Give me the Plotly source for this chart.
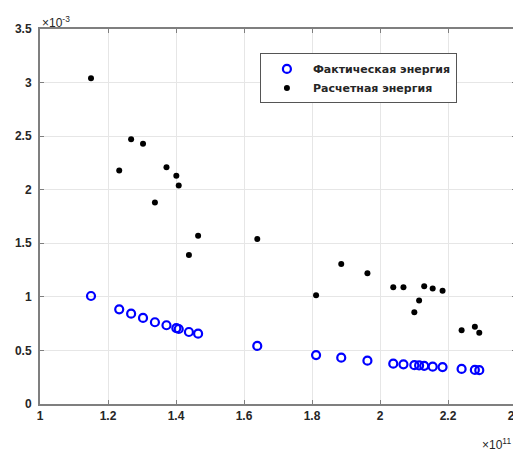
import plotly.graph_objects as go

# x in units of 1e11, y in units of 1e-3
x_vals = [1.150, 1.233, 1.268, 1.303, 1.338, 1.372, 1.401, 1.408, 1.438, 1.465,
          1.639, 1.812, 1.886, 1.963, 2.039, 2.069, 2.101, 2.115, 2.130, 2.155,
          2.184, 2.240, 2.279, 2.292]
actual_energy = [1.008, 0.884, 0.843, 0.803, 0.763, 0.735, 0.708, 0.700, 0.672, 0.656,
                 0.542, 0.457, 0.432, 0.404, 0.376, 0.370, 0.362, 0.360, 0.356, 0.348,
                 0.345, 0.327, 0.318, 0.316]
calc_energy = [3.04, 2.18, 2.47, 2.43, 1.88, 2.21, 2.13, 2.04, 1.39, 1.57,
               1.54, 1.015, 1.307, 1.22, 1.09, 1.09, 0.856, 0.965, 1.099, 1.077,
               1.058, 0.688, 0.722, 0.666]
x_ticks = [1, 1.2, 1.4, 1.6, 1.8, 2, 2.2, 2.4]
x_tick_text = ["1", "1.2", "1.4", "1.6", "1.8", "2", "2.2", "2.4"]
y_ticks = [0, 0.5, 1, 1.5, 2, 2.5, 3, 3.5]
y_tick_text = ["0", "0.5", "1", "1.5", "2", "2.5", "3", "3.5"]

font_family = "Liberation Sans, Arial, sans-serif"
legend_family = "DejaVu Sans, Liberation Sans, sans-serif"
tick_color = "#262626"

fig = go.Figure()
fig.add_trace(go.Scatter(
    x=x_vals, y=actual_energy, mode="markers", name="<b>Фактическая энергия</b>",
    marker=dict(symbol="circle-open", size=8, color="#0000FF", line=dict(width=2.2, color="#0000FF")),
))
fig.add_trace(go.Scatter(
    x=x_vals, y=calc_energy, mode="markers", name="<b>Расчетная энергия</b>",
    marker=dict(symbol="circle", size=6, color="#000000"),
))

axis_common = dict(
    showgrid=True, gridcolor="#E6E6E6", gridwidth=1,
    showline=True, linecolor="#7F7F7F", linewidth=2, mirror="ticks",
    ticks="inside", ticklen=4, tickcolor="#7F7F7F", tickwidth=1,
    zeroline=False, automargin=False, ticklabeloverflow="allow",
    tickfont=dict(family=font_family, size=12, color=tick_color),
)

# page body has an 8px margin, so the figure is drawn 8px smaller
fig.update_layout(
    width=513, height=445,
    margin=dict(l=32, r=5, t=21, b=49),
    paper_bgcolor="white", plot_bgcolor="white",
    showlegend=True,
    legend=dict(
        x=0.462, y=0.935, xanchor="left", yanchor="top",
        bgcolor="white", bordercolor="#555555", borderwidth=1,
        font=dict(family=legend_family, size=11, color="#262626"),
        itemwidth=42, tracegroupgap=0,
    ),
    xaxis=dict(range=[1, 2.4], tickvals=x_ticks,
               ticktext=["<b>%s</b>" % t for t in x_tick_text], **axis_common),
    yaxis=dict(range=[0, 3.5], tickvals=y_ticks, ticklabelstandoff=4,
               ticktext=["<b>%s</b>" % t for t in y_tick_text], **axis_common),
    annotations=[
        dict(text="×10<sup>-3</sup>", xref="paper", yref="paper", x=0.0, y=1.0,
             xanchor="left", yanchor="bottom", showarrow=False, yshift=-3,
             font=dict(family=font_family, size=12, color=tick_color)),
        dict(text="×10<sup>11</sup>", xref="paper", yref="paper", x=0.993, y=0,
             xanchor="right", yanchor="top", showarrow=False, yshift=-30,
             font=dict(family=font_family, size=12, color=tick_color)),
    ],
)

fig.write_html("out.html")
